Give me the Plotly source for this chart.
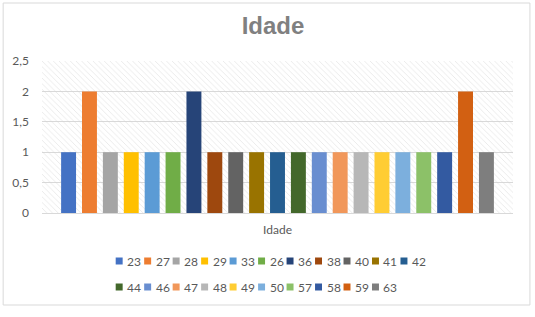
import plotly.graph_objects as go

category = ["Idade"]
series_names = ["23", "27", "28", "29", "33", "26", "36", "38", "40", "41", "42",
                "44", "46", "47", "48", "49", "50", "57", "58", "59", "63"]
values = [1, 2, 1, 1, 1, 1, 2, 1, 1, 1, 1, 1, 1, 1, 1, 1, 1, 1, 1, 2, 1]
colors = ["#4472C4", "#ED7D31", "#A5A5A5", "#FFC000", "#5B9BD5", "#70AD47",
          "#264478", "#9E480E", "#636363", "#997300", "#255E91", "#43682B",
          "#698ED0", "#F1975A", "#B7B7B7", "#FFCD33", "#7CAFDD", "#8CC168",
          "#335AA1", "#D26012", "#7E7E7E"]
y_ticks = [0, 0.5, 1, 1.5, 2, 2.5]

W, H = 535, 317
L, R, T, B = 40, 22, 61, 104
PW, PH = W - L - R, H - T - B

def px_x(x):
    return (x - L) / PW

def px_y(y):
    return (H - B - y) / PH

fig = go.Figure()

# hatched plot-area background
fig.add_trace(go.Bar(
    x=[0.5], y=[max(y_ticks)], width=[1], xaxis="x", yaxis="y",
    marker=dict(color="rgba(0,0,0,0)", line=dict(width=0),
                pattern=dict(shape="\\", fgcolor="#D2D2D2", bgcolor="rgba(0,0,0,0)",
                             size=4, solidity=0.22)),
    showlegend=False, hoverinfo="skip"))

for name, v, c in zip(series_names, values, colors):
    fig.add_trace(go.Bar(x=category, y=[v], name=name, marker_color=c,
                         marker_line_width=0, xaxis="x2", yaxis="y",
                         showlegend=False))

shapes = []
annotations = []
# chart border
shapes.append(dict(type="rect", xref="paper", yref="paper",
                   x0=px_x(1), x1=px_x(530), y0=px_y(305), y1=px_y(3),
                   line=dict(color="#D9D9D9", width=1), fillcolor="rgba(0,0,0,0)",
                   layer="below"))

# manual legend (positions computed from series order)
per_row = 11
pitch = 28.6
x_start = 114
row_y = [261, 287]
sq = 7
for i, (name, c) in enumerate(zip(series_names, colors)):
    r = i // per_row
    k = i % per_row
    x0 = x_start + k * pitch
    yc = row_y[r]
    shapes.append(dict(type="rect", xref="paper", yref="paper",
                       x0=px_x(x0), x1=px_x(x0 + sq),
                       y0=px_y(yc + sq / 2), y1=px_y(yc - sq / 2),
                       fillcolor=c, line=dict(width=0)))
    annotations.append(dict(xref="paper", yref="paper", x=px_x(x0 + sq + 2.5),
                            y=px_y(yc), xanchor="left", yanchor="middle",
                            text=name, showarrow=False,
                            font=dict(family="Lato", size=12, color="#595959")))

fig.update_layout(
    width=W, height=H,
    margin=dict(l=L, r=R, t=T, b=B),
    paper_bgcolor="white", plot_bgcolor="white",
    separators=",.",
    barmode="group", bargap=0.0685, bargroupgap=0.285,
    title=dict(text="<b>Idade</b>", x=273 / W, xanchor="center",
               y=1 - 26 / H, yanchor="middle",
               font=dict(family="Liberation Sans", size=24, color="#808080")),
    xaxis=dict(range=[0, 1], showgrid=False, zeroline=False, showticklabels=False,
               fixedrange=True, showline=False),
    xaxis2=dict(overlaying="x", side="bottom", type="category", showgrid=False,
                zeroline=False, showline=False, ticks="", ticklabelstandoff=8,
                tickfont=dict(family="Lato", size=12, color="#595959")),
    yaxis=dict(range=[0, 2.5], tickvals=y_ticks, showgrid=True, gridcolor="#D9D9D9",
               gridwidth=1, zeroline=True, zerolinecolor="#D9D9D9", zerolinewidth=1,
               showline=False, ticks="", ticklabelstandoff=12,
               tickfont=dict(family="Lato", size=12, color="#595959")),
    shapes=shapes, annotations=annotations,
)

fig.write_html("out.html")
